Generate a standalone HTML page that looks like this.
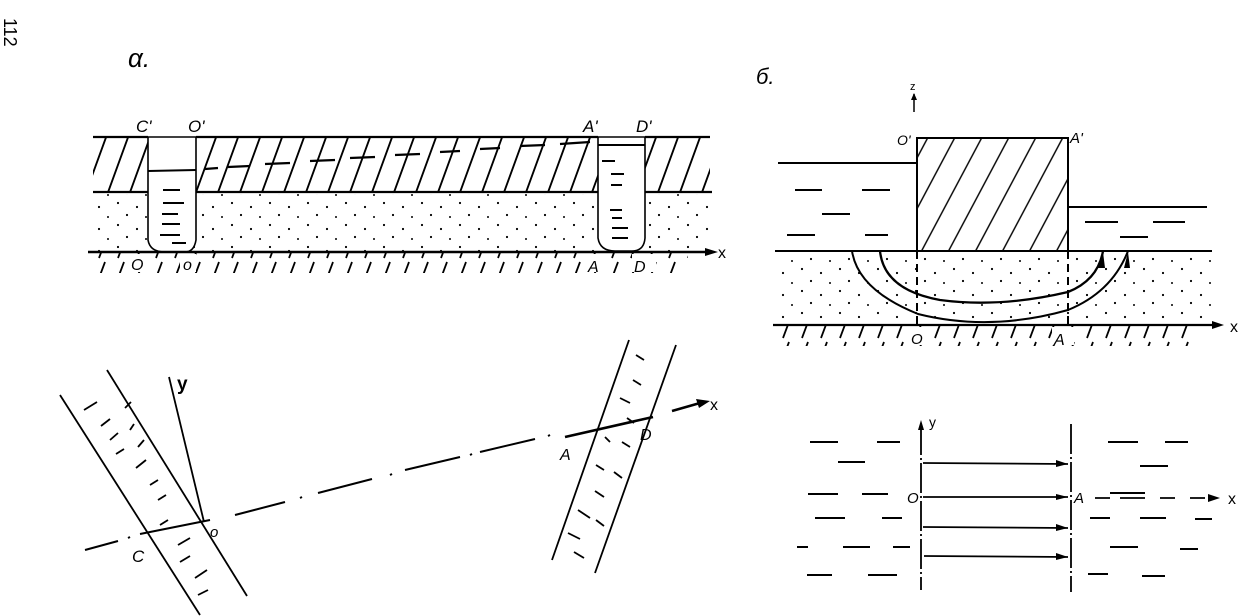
<!DOCTYPE html>
<html><head><meta charset="utf-8"><style>
html,body{margin:0;padding:0;background:#fff;}
svg{display:block}
text{font-family:"Liberation Sans",sans-serif;font-style:italic;fill:#000}
</style></head><body>
<svg width="1244" height="616" viewBox="0 0 1244 616" xmlns="http://www.w3.org/2000/svg">
<defs>
<pattern id="hatch" patternUnits="userSpaceOnUse" width="22" height="60" patternTransform="skewX(-20)">
<line x1="2" y1="0" x2="2" y2="60" stroke="#000" stroke-width="2"/>
</pattern>
<pattern id="hatch2" patternUnits="userSpaceOnUse" width="27" height="120" patternTransform="skewX(-28)">
<line x1="2" y1="0" x2="2" y2="120" stroke="#000" stroke-width="1.6"/>
</pattern>
<pattern id="dots" patternUnits="userSpaceOnUse" width="38" height="22">
<circle cx="4" cy="5" r="1.1" fill="#000"/><circle cx="23" cy="9" r="1.1" fill="#000"/><circle cx="13" cy="17" r="1.1" fill="#000"/><circle cx="32" cy="19" r="1" fill="#000"/>
</pattern>
<pattern id="ground" patternUnits="userSpaceOnUse" width="19" height="20">
<line x1="4" y1="18" x2="10" y2="2" stroke="#000" stroke-width="1.8"/>
</pattern>
</defs>

<!-- page number -->
<text x="0" y="0" transform="translate(4,18) rotate(90)" font-style="normal" font-size="18" font-family="Liberation Serif" style="font-style:normal">112</text>
<text x="2" y="0" transform="translate(5,4) rotate(90)" style="display:none">112</text>

<!-- ============ panel a (top-left) ============ -->
<text x="128" y="67" font-size="26">α.</text>
<text x="136" y="132" font-size="17">C'</text>
<text x="188" y="132" font-size="17">O'</text>
<text x="583" y="132" font-size="17">A'</text>
<text x="636" y="132" font-size="17">D'</text>

<!-- clay hatched -->
<rect x="93" y="137" width="55" height="55" fill="url(#hatch)"/>
<rect x="196" y="137" width="402" height="55" fill="url(#hatch)"/>
<rect x="645" y="137" width="65" height="55" fill="url(#hatch)"/>
<g stroke="#000" stroke-width="2.2" fill="none">
<line x1="93" y1="137" x2="148" y2="137"/>
<line x1="196" y1="137" x2="598" y2="137"/>
<line x1="645" y1="137" x2="710" y2="137"/>
<line x1="93" y1="192" x2="148" y2="192"/>
<line x1="196" y1="192" x2="598" y2="192"/>
<line x1="645" y1="192" x2="712" y2="192"/>
<!-- piezometric line -->
<path d="M148 171 L196 170 M205 169 L218 168 M228 167 L250 166 M265 164 L290 163 M310 161 L335 160 M350 158 L375 157 M395 155 L420 154 M440 152 L460 151 M480 149 L500 148 M520 146 L545 145 M560 144 L590 142 M598 145 L645 145"/>
</g>
<!-- sand -->
<rect x="93" y="194" width="620" height="57" fill="url(#dots)"/>
<!-- trenches -->
<path d="M148 137 L148 240 Q150 252 165 252 L185 252 Q194 252 196 240 L196 137 Z" fill="#fff" stroke="#000" stroke-width="1.6"/>
<path d="M598 137 L598 238 Q600 251 615 251 L632 251 Q644 251 645 238 L645 137 Z" fill="#fff" stroke="#000" stroke-width="1.6"/>
<g stroke="#000" stroke-width="2">
<line x1="148" y1="171" x2="196" y2="170"/>
<line x1="598" y1="145" x2="645" y2="145"/>
<line x1="163" y1="190" x2="180" y2="190"/><line x1="163" y1="203" x2="184" y2="203"/><line x1="162" y1="214" x2="178" y2="214"/><line x1="162" y1="224" x2="180" y2="224"/><line x1="160" y1="235" x2="180" y2="235"/><line x1="172" y1="243" x2="186" y2="243"/>
<line x1="602" y1="161" x2="615" y2="161"/><line x1="611" y1="174" x2="624" y2="174"/><line x1="611" y1="185" x2="622" y2="185"/><line x1="610" y1="210" x2="622" y2="210"/><line x1="612" y1="218" x2="622" y2="218"/><line x1="612" y1="228" x2="628" y2="228"/><line x1="612" y1="238" x2="628" y2="238"/>
</g>
<!-- bed -->
<line x1="88" y1="252" x2="712" y2="252" stroke="#000" stroke-width="2.4"/>
<path d="M705 248 L718 252 L705 256 Z" fill="#000"/>
<text x="718" y="258" font-size="16" style="font-style:normal">x</text>
<rect x="88" y="253" width="600" height="20" fill="url(#ground)"/>
<rect x="128" y="254" width="20" height="18" fill="#fff"/><rect x="180" y="254" width="16" height="18" fill="#fff"/>
<rect x="586" y="254" width="16" height="18" fill="#fff"/><rect x="632" y="254" width="24" height="18" fill="#fff"/>
<text x="131" y="270" font-size="16">O</text>
<text x="183" y="270" font-size="16">o</text>
<text x="588" y="272" font-size="16">A</text>
<text x="634" y="272" font-size="16">D</text>

<!-- ============ panel a plan (bottom-left) ============ -->
<g stroke="#000" stroke-width="1.8" fill="none">
<line x1="60" y1="395" x2="200" y2="615"/>
<line x1="107" y1="370" x2="247" y2="596"/>
<line x1="169" y1="377" x2="204" y2="522"/>
<line x1="629" y1="340" x2="552" y2="560"/>
<line x1="676" y1="345" x2="595" y2="573"/>
<path d="M85 550 L118 541 M128 538 L130 537 M140 534 L210 520 M235 515 L285 502 M300 498 L302 497 M318 493 L372 479 M390 475 L392 474 M405 470 L460 457 M470 455 L472 454 M480 452 L535 439 M548 436 L550 435" stroke-width="2"/>
<path d="M565 437 L653 417" stroke-width="2.6"/>
<path d="M672 411 L700 403" stroke-width="2.6"/>
</g>
<path d="M696 399 L710 401 L699 408 Z" fill="#000"/>
<text x="710" y="410" font-size="16" style="font-style:normal">x</text>
<g stroke="#000" stroke-width="1.8">
<line x1="84" y1="410" x2="97" y2="402"/><line x1="101" y1="426" x2="110" y2="419"/><line x1="110" y1="440" x2="118" y2="433"/><line x1="116" y1="454" x2="124" y2="449"/><line x1="136" y1="468" x2="146" y2="460"/><line x1="150" y1="485" x2="158" y2="480"/><line x1="158" y1="500" x2="166" y2="495"/><line x1="130" y1="430" x2="134" y2="424"/><line x1="125" y1="408" x2="131" y2="402"/><line x1="138" y1="447" x2="144" y2="440"/><line x1="160" y1="525" x2="168" y2="520"/><line x1="178" y1="545" x2="190" y2="538"/><line x1="180" y1="562" x2="190" y2="556"/><line x1="195" y1="578" x2="207" y2="570"/><line x1="198" y1="595" x2="208" y2="590"/>
<line x1="636" y1="355" x2="644" y2="360"/><line x1="633" y1="380" x2="641" y2="385"/><line x1="620" y1="398" x2="630" y2="403"/><line x1="627" y1="418" x2="634" y2="423"/><line x1="605" y1="437" x2="610" y2="442"/><line x1="622" y1="442" x2="630" y2="447"/><line x1="596" y1="465" x2="604" y2="470"/><line x1="614" y1="472" x2="622" y2="478"/><line x1="595" y1="491" x2="604" y2="497"/><line x1="578" y1="510" x2="590" y2="518"/><line x1="596" y1="520" x2="604" y2="526"/><line x1="568" y1="533" x2="580" y2="539"/><line x1="574" y1="552" x2="584" y2="558"/>
</g>
<text x="177" y="390" font-size="19" font-weight="bold" style="font-style:normal">y</text>
<text x="210" y="537" font-size="15">o</text>
<text x="132" y="562" font-size="17">C</text>
<text x="560" y="460" font-size="16">A</text>
<text x="640" y="440" font-size="16">D</text>

<!-- ============ panel б (top-right) ============ -->
<text x="756" y="84" font-size="22">б.</text>
<text x="910" y="90" font-size="11" style="font-style:normal">z</text>
<line x1="914" y1="94" x2="914" y2="112" stroke="#000" stroke-width="1.5"/>
<path d="M911 100 L914 93 L917 100 Z" fill="#000"/>
<text x="897" y="145" font-size="14">O'</text>
<text x="1070" y="143" font-size="15">A'</text>
<rect x="917" y="138" width="151" height="113" fill="url(#hatch2)"/>
<g stroke="#000" stroke-width="2" fill="none">
<rect x="917" y="138" width="151" height="113"/>
<line x1="778" y1="163" x2="917" y2="163"/>
<line x1="1068" y1="207" x2="1207" y2="207"/>
<line x1="795" y1="190" x2="822" y2="190"/><line x1="862" y1="190" x2="890" y2="190"/><line x1="822" y1="214" x2="850" y2="214"/><line x1="787" y1="235" x2="815" y2="235"/><line x1="865" y1="235" x2="888" y2="235"/>
<line x1="1085" y1="222" x2="1118" y2="222"/><line x1="1153" y1="222" x2="1185" y2="222"/><line x1="1120" y1="237" x2="1148" y2="237"/>
</g>
<rect x="775" y="253" width="440" height="70" fill="url(#dots)"/>
<line x1="775" y1="251" x2="1212" y2="251" stroke="#000" stroke-width="2"/>
<g stroke="#000" fill="none">
<path d="M852 251 Q858 290 918 314 Q990 332 1068 310 Q1112 292 1128 251" stroke-width="2"/>
<path d="M880 251 Q884 290 940 300 Q1000 308 1068 292 Q1098 280 1103 251" stroke-width="2.3"/>
<line x1="917" y1="251" x2="917" y2="328" stroke-width="2" stroke-dasharray="8,5"/>
<line x1="1068" y1="251" x2="1068" y2="328" stroke-width="2" stroke-dasharray="8,5"/>
</g>
<path d="M1098 268 L1103 252 L1105 268 Z" fill="#000"/>
<path d="M1124 268 L1128 252 L1130 268 Z" fill="#000"/>
<line x1="773" y1="325" x2="1220" y2="325" stroke="#000" stroke-width="2.2"/>
<path d="M1212 321 L1224 325 L1212 329 Z" fill="#000"/>
<text x="1230" y="332" font-size="16" style="font-style:normal">x</text>
<rect x="775" y="326" width="420" height="20" fill="url(#ground)"/>
<rect x="908" y="327" width="18" height="18" fill="#fff"/><rect x="1052" y="327" width="22" height="18" fill="#fff"/>
<text x="911" y="344" font-size="15">O</text>
<text x="1054" y="345" font-size="16">A</text>

<!-- ============ panel б plan (bottom-right) ============ -->
<g stroke="#000" stroke-width="1.8" fill="none">
<line x1="921" y1="425" x2="921" y2="590" stroke-dasharray="30,3,2,3"/>
<line x1="1071" y1="424" x2="1071" y2="592" stroke-dasharray="30,3,2,3"/>
<line x1="923" y1="463" x2="1068" y2="464"/>
<line x1="923" y1="497" x2="1068" y2="497"/>
<line x1="923" y1="527" x2="1068" y2="528"/>
<line x1="924" y1="556" x2="1068" y2="557"/>
<path d="M1095 498 L1110 498 M1120 498 L1145 498 M1160 498 L1175 498 M1190 498 L1205 498"/>
</g>
<path d="M918 430 L921 420 L924 430 Z" fill="#000"/>
<path d="M1056 460 L1068 464 L1056 467 Z M1056 494 L1068 497 L1056 500 Z M1056 524 L1068 528 L1056 531 Z M1056 553 L1068 557 L1056 560 Z" fill="#000"/>
<path d="M1208 494 L1220 498 L1208 502 Z" fill="#000"/>
<text x="1228" y="504" font-size="16" style="font-style:normal">x</text>
<text x="929" y="427" font-size="14" style="font-style:normal">y</text>
<text x="907" y="503" font-size="15">O</text>
<text x="1074" y="503" font-size="15">A</text>
<g stroke="#000" stroke-width="2">
<line x1="810" y1="442" x2="838" y2="442"/><line x1="877" y1="442" x2="900" y2="442"/><line x1="838" y1="462" x2="865" y2="462"/>
<line x1="808" y1="494" x2="838" y2="494"/><line x1="862" y1="494" x2="888" y2="494"/><line x1="815" y1="518" x2="845" y2="518"/><line x1="882" y1="518" x2="902" y2="518"/>
<line x1="797" y1="547" x2="808" y2="547"/><line x1="843" y1="547" x2="870" y2="547"/><line x1="893" y1="547" x2="910" y2="547"/>
<line x1="807" y1="575" x2="832" y2="575"/><line x1="868" y1="575" x2="897" y2="575"/>
<line x1="1108" y1="442" x2="1138" y2="442"/><line x1="1165" y1="442" x2="1188" y2="442"/><line x1="1140" y1="466" x2="1168" y2="466"/>
<line x1="1110" y1="493" x2="1145" y2="493"/>
<line x1="1090" y1="518" x2="1110" y2="518"/><line x1="1140" y1="518" x2="1166" y2="518"/><line x1="1195" y1="519" x2="1212" y2="519"/>
<line x1="1110" y1="547" x2="1138" y2="547"/><line x1="1180" y1="549" x2="1198" y2="549"/>
<line x1="1088" y1="574" x2="1108" y2="574"/><line x1="1142" y1="576" x2="1165" y2="576"/>
</g>
</svg>
</body></html>
